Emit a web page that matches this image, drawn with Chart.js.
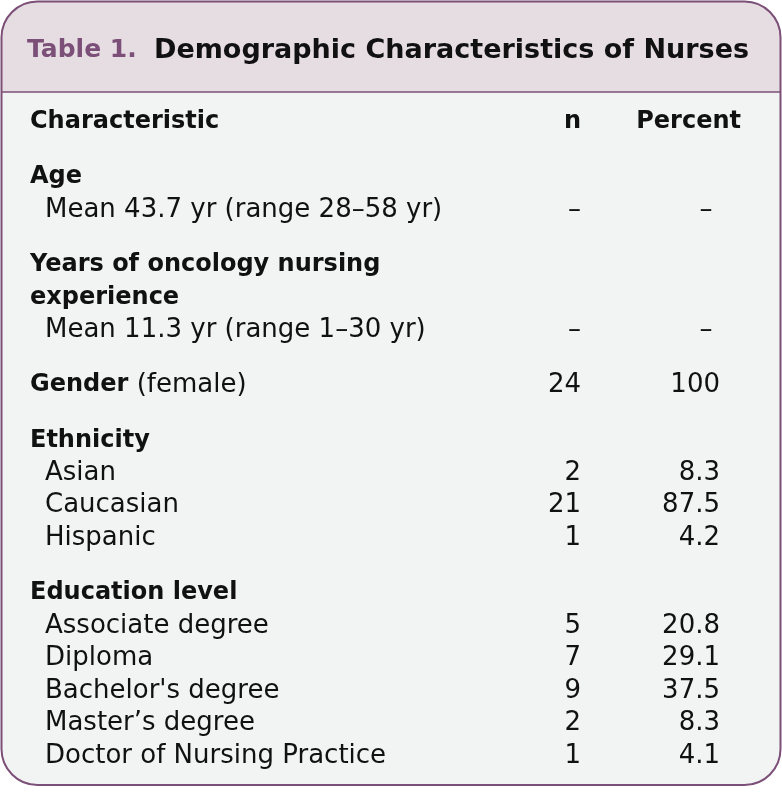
<!DOCTYPE html>
<html>
<head>
<meta charset="utf-8">
<script src="https://cdn.jsdelivr.net/npm/chart.js@4.4.1/dist/chart.umd.min.js"></script>
<style>
  html, body { margin: 0; background: #fff; }
</style>
</head>
<body>
<canvas id="myChart" width="782" height="800"></canvas>
<script>
// table content
const tableNumber = 'Table 1.';
const tableTitle = 'Demographic Characteristics of Nurses';
const columnHeads = ['Characteristic', 'n', 'Percent'];

const rowLabels = [
  'Age', 'Mean 43.7 yr (range 28–58 yr)',
  'Years of oncology nursing experience', 'Mean 11.3 yr (range 1–30 yr)',
  'Gender',
  'Ethnicity', 'Asian', 'Caucasian', 'Hispanic',
  'Education level', 'Associate degree', 'Diploma', "Bachelor's degree", 'Master’s degree', 'Doctor of Nursing Practice'
];
const rowIsHeading = [true, false, true, false, true, true, false, false, false, true, false, false, false, false, false];
const rowNotes = ['', '', '', '', '(female)', '', '', '', '', '', '', '', '', '', ''];
const nValues = [null, '–', null, '–', 24, null, 2, 21, 1, null, 5, 7, 9, 2, 1];
const pctValues = [null, '–', null, '–', 100, null, 8.3, 87.5, 4.2, null, 20.8, 29.1, 37.5, 8.3, 4.1];

// look
const FONT = '"DejaVu Sans", sans-serif';
const PURPLE = '#7b4f77';
const INK = '#111111';
const BODY_FONT = '26px ' + FONT;
const BOLD_FONT = 'bold 24px ' + FONT;
const ROW_PX = 32.5;
const HEAD_ROW_PX = 122;

const fmtPct = v => (typeof v === 'number' ? (Number.isInteger(v) ? String(v) : v.toFixed(1)) : v);

const tablePlugin = {
  id: 'tablePlugin',
  beforeDraw(chart) {
    const c = chart.ctx;
    const x0 = 1.5, y0 = 1.5, x1 = 780.5, y1 = 785, r = 36, hb = 92;
    c.save();
    // body
    c.beginPath();
    c.roundRect(x0, y0, x1 - x0, y1 - y0, r);
    c.fillStyle = '#f2f3f3';
    c.fill();
    // header band
    c.save();
    c.clip();
    c.fillStyle = '#e6dde3';
    c.fillRect(0, 0, 782, hb);
    c.strokeStyle = PURPLE;
    c.lineWidth = 1.5;
    c.beginPath();
    c.moveTo(0, hb);
    c.lineTo(782, hb);
    c.stroke();
    c.restore();
    c.beginPath();
    c.roundRect(x0, y0, x1 - x0, y1 - y0, r);
    c.strokeStyle = PURPLE;
    c.lineWidth = 2;
    c.stroke();
    c.restore();
  },
  afterDraw(chart) {
    const c = chart.ctx;
    const xs = chart.scales.x, ys = chart.scales.y;
    const labelX = xs.getPixelForValue(30);
    const itemX = xs.getPixelForValue(45);
    const nX = xs.getPixelForValue(581);
    const pctX = xs.getPixelForValue(720);
    const pctHeadX = xs.getPixelForValue(741);
    const dashPctX = xs.getPixelForValue(706);
    c.save();
    c.textBaseline = 'middle';

    // title
    const ty = ys.getPixelForValue(-2.19);
    c.font = 'bold 25px ' + FONT;
    c.fillStyle = PURPLE;
    c.textAlign = 'left';
    c.fillText(tableNumber, 27, ty);
    c.font = 'bold 27px ' + FONT;
    c.fillStyle = INK;
    c.fillText(tableTitle, 154, ty);

    // column heads
    const hy = ys.getPixelForValue(0);
    c.font = BOLD_FONT;
    c.fillText(columnHeads[0], labelX, hy);
    c.textAlign = 'right';
    c.fillText(columnHeads[1], nX, hy);
    c.fillText(columnHeads[2], pctHeadX, hy);

    // rows
    let slot = 0;
    rowLabels.forEach((label, i) => {
      slot += rowIsHeading[i] ? 1.7 : 1;
      const y = ys.getPixelForValue(slot);
      c.textAlign = 'left';
      if (rowIsHeading[i]) {
        c.font = BOLD_FONT;
        // wrap long headings
        const words = label.split(' ');
        const lines = [];
        let line = '';
        words.forEach(wd => {
          const test = line ? line + ' ' + wd : wd;
          if (c.measureText(test).width > 420 && line) { lines.push(line); line = wd; }
          else line = test;
        });
        lines.push(line);
        lines.forEach((ln, k) => c.fillText(ln, labelX, ys.getPixelForValue(slot + k)));
        if (rowNotes[i]) {
          const lw = c.measureText(lines[lines.length - 1] + ' ').width;
          c.font = BODY_FONT;
          c.fillText(rowNotes[i], labelX + lw, y);
        }
        slot += lines.length - 1;
      } else {
        c.font = BODY_FONT;
        c.fillText(label, itemX, y);
      }
      c.font = BODY_FONT;
      if (nValues[i] !== null) {
        c.textAlign = 'right';
        c.fillText(String(nValues[i]), nX, y);
      }
      if (pctValues[i] !== null) {
        if (pctValues[i] === '–') {
          c.textAlign = 'center';
          c.fillText('–', dashPctX, y);
        } else {
          c.textAlign = 'right';
          c.fillText(fmtPct(pctValues[i]), pctX, y);
        }
      }
    });
    c.restore();
  }
};

const ctx = document.getElementById('myChart');
const chart = new Chart(ctx, {
  type: 'scatter',
  data: { datasets: [{ data: [] }] },
  options: {
    responsive: false,
    animation: false,
    events: [],
    layout: { padding: 0 },
    plugins: { legend: { display: false }, tooltip: { enabled: false } },
    scales: {
      x: { type: 'linear', display: false, min: 0, max: 782 },
      y: {
        type: 'linear', display: false, reverse: true,
        min: -HEAD_ROW_PX / ROW_PX,
        max: (800 - HEAD_ROW_PX) / ROW_PX
      }
    }
  },
  plugins: [tablePlugin]
});
</script>
</body>
</html>
